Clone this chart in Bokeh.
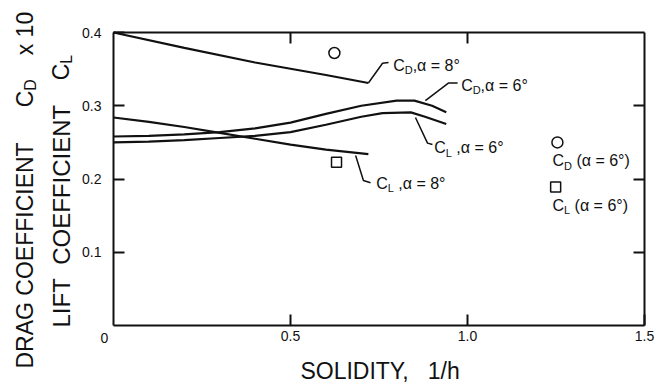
from bokeh.plotting import figure
from bokeh.models import Range1d, LinearAxis, FixedTicker, Label
from bokeh.embed import file_html
from bokeh.resources import INLINE
import math

# ---------------- data ----------------
cd8_x = [0.0, 0.2, 0.4, 0.6, 0.72]
cd8_y = [0.400, 0.379, 0.359, 0.342, 0.331]

cl8_x = [0.0, 0.1, 0.2, 0.3, 0.4, 0.5, 0.6, 0.72]
cl8_y = [0.284, 0.278, 0.271, 0.263, 0.255, 0.247, 0.240, 0.234]

cd6_x = [0.0, 0.1, 0.2, 0.3, 0.4, 0.5, 0.6, 0.7, 0.8, 0.85, 0.9, 0.94]
cd6_y = [0.258, 0.259, 0.261, 0.264, 0.269, 0.277, 0.289, 0.300, 0.307, 0.307, 0.300, 0.291]

cl6_x = [0.0, 0.1, 0.2, 0.3, 0.4, 0.5, 0.6, 0.7, 0.76, 0.84, 0.88, 0.94]
cl6_y = [0.250, 0.251, 0.253, 0.256, 0.259, 0.264, 0.274, 0.285, 0.290, 0.291, 0.285, 0.275]

pt_cd_x = [0.624]
pt_cd_y = [0.372]
pt_cl_x = [0.63]
pt_cl_y = [0.223]

x_ticks = [0.5, 1.0, 1.5]
y_ticks = [0.1, 0.2, 0.3, 0.4]
x_tick_labels = {0.5: "0.5", 1.0: "1.0", 1.5: "1.5"}
y_tick_labels = {0.1: "0.1", 0.2: "0.2", 0.3: "0.3", 0.4: "0.4"}

X_MIN, X_MAX = 0.0, 1.5
Y_MIN, Y_MAX = 0.0, 0.4

FONT = "Liberation Sans"
INK = "#111111"

# ---------------- layout (pixels) ----------------
W, H = 656, 385
BOX_L, BOX_R, BOX_T, BOX_B = 113, 644, 32, 325
sx = (BOX_R - BOX_L) / (X_MAX - X_MIN)
sy = (BOX_B - BOX_T) / (Y_MAX - Y_MIN)
x_range = Range1d(X_MIN - BOX_L / sx, X_MAX + (W - BOX_R) / sx)
y_range = Range1d(Y_MIN - (H - BOX_B) / sy, Y_MAX + BOX_T / sy)

p = figure(width=W, height=H, x_range=x_range, y_range=y_range,
           output_backend="svg", toolbar_location=None,
           x_axis_location=None, y_axis_location=None, min_border=0)
p.xgrid.visible = False
p.ygrid.visible = False
p.outline_line_color = None
p.background_fill_color = "white"
p.border_fill_color = "white"

def make_axis(ticks, labels, show_labels, standoff, loc, bounds):
    ax = LinearAxis(fixed_location=loc, bounds=bounds)
    ax.ticker = FixedTicker(ticks=ticks)
    ax.major_label_overrides = labels
    ax.axis_line_color = INK
    ax.axis_line_width = 2
    ax.major_tick_line_color = INK
    ax.major_tick_line_width = 2
    ax.major_tick_in = 11
    ax.major_tick_out = 0
    ax.minor_tick_line_color = None
    ax.major_label_text_font = FONT
    ax.major_label_text_font_size = "14px"
    ax.major_label_text_color = INK if show_labels else None
    ax.major_label_standoff = standoff
    return ax

p.add_layout(make_axis(x_ticks, x_tick_labels, True, 5, Y_MIN, (X_MIN, X_MAX)), "below")
p.add_layout(make_axis(y_ticks, y_tick_labels, True, 12, X_MIN, (Y_MIN, Y_MAX)), "left")
p.add_layout(make_axis([0.5, 1.0], {}, False, 0, Y_MAX, (X_MIN, X_MAX)), "above")
p.add_layout(make_axis([0.1, 0.2, 0.3], {}, False, 0, X_MAX, (Y_MIN, Y_MAX)), "right")

# ---------------- curves ----------------
for xs, ys in [(cd8_x, cd8_y), (cl8_x, cl8_y), (cd6_x, cd6_y), (cl6_x, cl6_y)]:
    p.line(xs, ys, line_color=INK, line_width=2.2)

p.scatter(pt_cd_x, pt_cd_y, marker="circle", size=11, fill_color="white",
          line_color=INK, line_width=1.5)
p.scatter(pt_cl_x, pt_cl_y, marker="square", size=10, fill_color="white",
          line_color=INK, line_width=1.5)

# legend keys
p.scatter([1.254], [0.250], marker="circle", size=11, fill_color="white",
          line_color=INK, line_width=1.5)
p.scatter([1.249], [0.189], marker="square", size=10, fill_color="white",
          line_color=INK, line_width=1.5)

# leader lines
leaders = [
    ([0.720, 0.760, 0.777], [0.331, 0.358, 0.359]),
    ([0.881, 0.946, 0.972], [0.307, 0.331, 0.331]),
    ([0.853, 0.887, 0.901], [0.284, 0.249, 0.247]),
    ([0.684, 0.706, 0.726], [0.232, 0.198, 0.195]),
]
for xs, ys in leaders:
    p.line(xs, ys, line_color=INK, line_width=1.5)

def lab(x, y, text, size, dx=0, dy=0, angle=0, align="left"):
    p.add_layout(Label(x=x, y=y, text=text, x_offset=dx, y_offset=dy, angle=angle,
                       text_font=FONT, text_font_size=f"{size}px", text_color=INK,
                       text_align=align, text_baseline="middle"))

NB = "\u00a0"

def sub_label(x, y, main, sub, rest, size=16, subsize=11):
    lab(x, y, main, size)
    w_main = 0.722 * size
    lab(x, y, sub, subsize, dx=w_main, dy=-5)
    w_sub = {"D": 0.722, "L": 0.556}[sub] * subsize
    lab(x, y, rest, size, dx=w_main + w_sub)

sub_label(0.790, 0.355, "C", "D", ",\u03b1 = 8\u00b0")
sub_label(0.982, 0.328, "C", "D", ",\u03b1 = 6\u00b0")
sub_label(0.906, 0.243, "C", "L", NB + ",\u03b1 = 6\u00b0")
sub_label(0.742, 0.194, "C", "L", NB + ",\u03b1 = 8\u00b0")
sub_label(1.240, 0.225, "C", "D", NB + "(\u03b1 = 6\u00b0)")
sub_label(1.240, 0.164, "C", "L", NB + "(\u03b1 = 6\u00b0)")

# origin label
lab(-0.0254, -0.0164, "0", 14, align="center")

# x-axis title
lab(0.528, -0.0615, "SOLIDITY," + NB * 3 + "1/h", 23)

# y-axis titles (rotated)
A = math.pi / 2
lab(-0.2486, -0.0587, "DRAG COEFFICIENT", 23, angle=A)
lab(-0.2486, 0.2978, "C", 23, angle=A)
lab(-0.2486, 0.3205, "D", 16, dx=5, angle=A)
lab(-0.2486, 0.3689, "x 10", 23, angle=A)

lab(-0.1469, -0.0027, "LIFT" + NB * 2 + "COEFFICIENT", 24, angle=A)
lab(-0.1469, 0.3347, "C", 23, angle=A)
lab(-0.1469, 0.3574, "L", 16, dx=5, angle=A)

open("out.html", "w").write(file_html(p, INLINE))
